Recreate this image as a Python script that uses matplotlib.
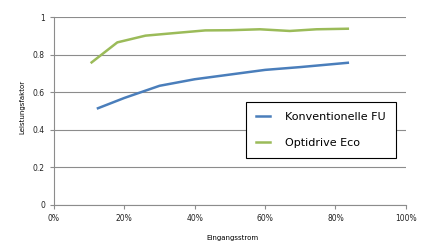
import matplotlib.pyplot as plt
from matplotlib.ticker import FuncFormatter

# Eingangsstrom (%) vs. Leistungsfaktor
konv_x = [12.5, 20, 30, 40, 50, 60, 70, 83.5]
konv_y = [0.515, 0.57, 0.635, 0.67, 0.695, 0.72, 0.735, 0.758]
eco_x = [10.7, 18, 26, 35, 43, 50, 58.5, 67, 74.6, 83.5]
eco_y = [0.76, 0.867, 0.903, 0.918, 0.931, 0.932, 0.937, 0.928, 0.937, 0.94]

fig = plt.figure(figsize=(4.25, 2.43), dpi=100)
ax = fig.add_axes([0.127, 0.158, 0.828, 0.77])

ax.plot(konv_x, konv_y, color='#4a7ebb', lw=1.8, label='Konventionelle FU')
ax.plot(eco_x, eco_y, color='#9bbb59', lw=1.8, label='Optidrive Eco')

ax.set_xlim(0, 100)
ax.set_ylim(0, 1)
ax.set_xticks([0, 20, 40, 60, 80, 100])
ax.xaxis.set_major_formatter(FuncFormatter(lambda v, p: f'{int(v)}%'))
ax.set_yticks([0, 0.2, 0.4, 0.6, 0.8, 1])
ax.set_yticklabels(['0', '0.2', '0.4', '0.6', '0.8', '1'])
ax.grid(axis='y', color='#8c8c8c', lw=0.8)
ax.set_axisbelow(True)
for s in ['top', 'right']:
    ax.spines[s].set_visible(False)
for s in ['left', 'bottom']:
    ax.spines[s].set_color('#8c8c8c')
    ax.spines[s].set_linewidth(0.8)
ax.tick_params(colors='#8c8c8c', labelcolor='#222222', labelsize=5.5, length=3, width=0.8)

fig.text(0.052, 0.56, 'Leistungsfaktor', rotation=90, ha='center', va='center', fontsize=5)
fig.text(0.547, 0.02, 'Eingangsstrom', ha='center', va='center', fontsize=5)

leg = ax.legend(loc='upper left', bbox_to_anchor=(246 / 425, 1 - 102 / 243), bbox_transform=fig.transFigure,
                fontsize=8, frameon=True, fancybox=False, handlelength=1.3, labelspacing=1.4,
                borderpad=0.9, handletextpad=1.3, borderaxespad=0)
leg.get_frame().set_edgecolor('black')
leg.get_frame().set_linewidth(0.8)
leg.get_frame().set_alpha(1)

fig.savefig('out.png', dpi=100)
